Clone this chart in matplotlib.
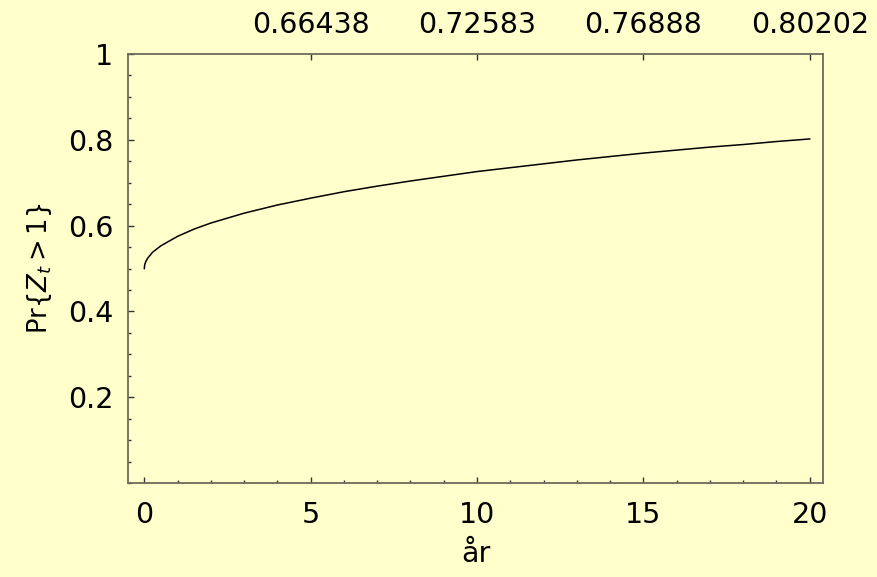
import matplotlib
matplotlib.use("Agg")
import matplotlib.pyplot as plt
from matplotlib.ticker import MultipleLocator

# Data
years = [0, 0.01, 0.02, 0.05, 0.1, 0.25, 0.5, 1, 1.5, 2, 3, 4, 5, 6, 7, 8, 9, 10,
         11, 12, 13, 14, 15, 16, 17, 18, 19, 20]
prob = [0.500, 0.508, 0.511, 0.517, 0.524, 0.538, 0.553, 0.575, 0.592, 0.606,
        0.629, 0.648, 0.664, 0.679, 0.692, 0.704, 0.715, 0.726, 0.735, 0.744,
        0.753, 0.761, 0.769, 0.776, 0.783, 0.789, 0.796, 0.802]
top_ticks = [5, 10, 15, 20]
top_labels = ["0.66438", "0.72583", "0.76888", "0.80202"]
x_ticks = [0, 5, 10, 15, 20]
y_ticks = [0.2, 0.4, 0.6, 0.8, 1]
y_labels = ["0.2", "0.4", "0.6", "0.8", "1"]

bg = "#FFFFCC"
spine_c = "#6b6b5a"
FS = 20.5

fig = plt.figure(figsize=(8.78, 5.77), dpi=100, facecolor=bg)
ax = fig.add_axes([0.1458, 0.1629, 0.9374 - 0.1458, 0.9064 - 0.1629])
ax.set_facecolor(bg)

ax.plot(years, prob, color="black", lw=1.1)

ax.set_xlim(-0.49, 20.4)
ax.set_ylim(0, 1)

for s in ax.spines.values():
    s.set_color(spine_c)
    s.set_linewidth(1.3)

ax.set_xticks(x_ticks)
ax.set_xticklabels([str(v) for v in x_ticks])
ax.xaxis.set_minor_locator(MultipleLocator(1))
ax.set_yticks(y_ticks)
ax.set_yticklabels(y_labels)
ax.yaxis.set_minor_locator(MultipleLocator(0.05))

ax.tick_params(axis="both", which="major", direction="in", length=4.5, width=1,
               color="#333333", labelsize=FS)
ax.tick_params(axis="both", which="minor", direction="in", length=2.5, width=1,
               color="#333333")
ax.tick_params(axis="x", which="both", top=False, bottom=True)
ax.tick_params(axis="x", which="major", pad=13)
ax.tick_params(axis="y", which="both", right=False, left=True)
ax.tick_params(axis="y", which="major", pad=10.5)

sec = ax.secondary_xaxis("top")
sec.set_xticks(top_ticks)
sec.set_xticklabels(top_labels)
sec.tick_params(axis="x", which="major", direction="in", length=4.5, width=1,
                color="#333333", labelsize=FS, pad=11)
sec.xaxis.set_minor_locator(plt.NullLocator())
sec.spines["top"].set_visible(False)

ax.set_xlabel("år", fontsize=FS, labelpad=8)
ax.set_ylabel("Pr{$Z_t$\u2009>\u20091}", fontsize=18.5, labelpad=10)

fig.savefig("out.png", dpi=100, facecolor=bg)
